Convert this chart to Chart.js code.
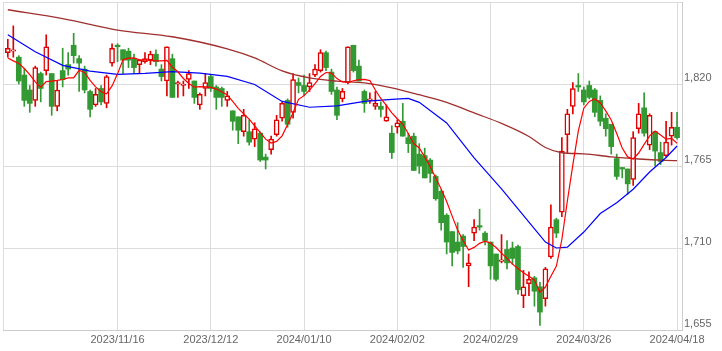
<!DOCTYPE html>
<html>
<head>
<meta charset="utf-8">
<script src="https://cdn.jsdelivr.net/npm/chart.js@4.4.1/dist/chart.umd.min.js"></script>
<style>
  html, body { margin: 0; padding: 0; background: #fff; }
  #stock-chart { display: block; }
</style>
</head>
<body>
<canvas id="stock-chart" width="722" height="351"></canvas>
<script>
// daily candles, index 0 = first visible day
const openP = [1841,1842,1838,1826,1816,1809,1827,1829,1827,1805,1829,1833,1846,1837,1830,1815,1806,1817,1807,1834,
  1846,1843,1842,1837,1833,1835,1836,1840,1830,1822,1837,1820,1819,1823,1822,1806,1817,1825,1818,1817,
  1809,1802,1798,1788,1788,1783,1787,1771,1776,1786,1797,1809,1801,1821,1819,1818,1826,1829,1841,1828,
  1816,1810,1821,1846,1832,1815,1809,1805,1805,1795,1787,1791,1795,1784,1785,1773,1772,1769,1758,1748,
  1732,1721,1714,1718,1698,1720,1725,1720,1714,1706,1701,1709,1710,1711,1678,1686,1690,1684,1676,1704,
  1729,1734,1786,1805,1819,1816,1819,1816,1809,1797,1793,1770,1764,1763,1756,1790,1804,1779,1788,1774,
  1772,1785,1791];
const highP = [1850,1859,1839,1830,1819,1832,1828,1853,1827,1822,1844,1841,1854,1839,1832,1816,1817,1819,1826,1847,
  1847,1843,1844,1840,1836,1841,1842,1843,1833,1845,1840,1822,1822,1829,1822,1814,1827,1826,1819,1818,
  1815,1802,1798,1803,1796,1794,1788,1773,1785,1799,1808,1810,1827,1824,1826,1827,1833,1843,1842,1830,
  1818,1817,1845,1846,1836,1816,1814,1815,1808,1806,1792,1796,1807,1787,1787,1780,1777,1770,1759,1749,
  1733,1721,1727,1719,1706,1729,1736,1721,1714,1706,1719,1715,1714,1712,1695,1694,1691,1687,1697,1739,
  1730,1784,1803,1821,1827,1818,1822,1817,1812,1800,1793,1773,1764,1763,1788,1807,1814,1800,1788,1781,
  1795,1801,1801];
const lowP = [1838,1838,1820,1805,1801,1805,1808,1826,1799,1802,1818,1826,1834,1815,1814,1798,1805,1806,1804,1832,
  1835,1827,1831,1827,1827,1834,1833,1832,1822,1812,1811,1811,1812,1817,1807,1803,1812,1815,1803,1805,
  1805,1789,1780,1785,1779,1778,1768,1763,1773,1785,1795,1791,1797,1814,1812,1815,1825,1828,1829,1813,
  1796,1808,1820,1828,1822,1801,1807,1803,1798,1795,1770,1787,1785,1774,1762,1760,1757,1754,1742,1722,
  1706,1698,1706,1697,1684,1715,1722,1712,1689,1688,1700,1696,1699,1679,1670,1678,1671,1658,1671,1703,
  1717,1731,1774,1800,1815,1806,1810,1798,1792,1785,1773,1756,1757,1746,1752,1787,1785,1776,1765,1766,
  1771,1779,1783];
const closeP = [1844,1843,1822,1809,1807,1831,1817,1845,1805,1816,1823,1830,1839,1834,1816,1803,1813,1808,1825,1844,
  1845,1836,1836,1831,1836,1837,1840,1835,1825,1845,1811,1821,1820,1827,1811,1813,1821,1817,1811,1811,
  1812,1795,1789,1799,1781,1790,1769,1769,1783,1796,1807,1793,1823,1819,1815,1821,1830,1841,1831,1815,
  1799,1815,1845,1829,1822,1807,1810,1807,1803,1798,1774,1794,1785,1780,1762,1765,1757,1760,1743,1727,
  1714,1707,1708,1711,1700,1724,1724,1715,1698,1689,1702,1700,1703,1682,1684,1689,1681,1667,1696,1724,
  1720,1775,1800,1817,1818,1808,1811,1801,1795,1790,1778,1758,1763,1753,1784,1800,1787,1799,1775,1768,
  1781,1791,1784];

// short moving average, one value per day
const ma5 = [1837.5,1835.5,1833.8,1830.4,1826.3,1821.4,1817.9,1821.6,1821.9,1822.4,1823.0,1824.1,1824.1,1829.2,1827.8,1822.4,1818.1,1814.8,1813.4,1818.7,
  1826.8,1836.2,1837.4,1837.5,1836.2,1836.2,1835.8,1835.5,1835.5,1835.9,1831.2,1828.2,1823.7,1820.4,1817.9,1818.3,1818.1,1817.7,1816.6,1814.8,
  1812.7,1808.3,1803.7,1800.0,1796.4,1791.9,1787.5,1783.0,1780.4,1781.5,1785.2,1792.8,1800.7,1809.7,1812.2,1815.9,1820.2,1825.1,1827.7,1827.3,
  1823.6,1821.4,1821.0,1822.2,1822.9,1823.1,1822.3,1816.0,1810.3,1805.6,1800.6,1796.7,1793.0,1786.8,1780.1,1777.1,1771.1,1764.7,1757.0,1749.6,
  1741.2,1731.4,1722.0,1715.0,1708.6,1710.4,1713.1,1714.6,1713.3,1710.3,1706.6,1703.0,1699.2,1696.3,1693.4,1691.1,1688.5,1680.4,1683.8,1691.1,
  1697.9,1715.7,1741.5,1765.7,1788.5,1803.8,1808.3,1810.0,1807.3,1802.0,1795.9,1786.8,1777.1,1771.1,1769.7,1773.7,1779.5,1785.2,1788.5,1785.8,
  1783.0,1783.5,1780.3];

// medium and long moving averages, read at a few days
const ma25Day = [0,5,10,15,20,25,30,35,40,45,50,55,60,65,70,73,75,80,85,90,95,98,100,102,105,108,111,114,117,120,122];
const ma25 = [1853.0,1841.6,1832.5,1828.6,1826.5,1827.1,1828.3,1827.3,1825.1,1819.7,1808.3,1804.4,1805.3,1808.3,1809.7,1810.3,1807.7,1793.9,1770.4,1749.6,1727.4,1714.0,1710.0,1710.6,1720.7,1733.1,1740.4,1749.4,1761.0,1770.7,1778.4];
const ma75Day = [0,10,20,30,40,45,50,55,60,65,70,75,80,85,90,95,98,101,105,110,115,120,122];
const ma75 = [1869.8,1863.9,1856.2,1851.7,1843.6,1837.5,1828.8,1824.1,1821.9,1820.8,1817.4,1812.8,1807.7,1800.6,1793.6,1784.8,1777.4,1773.9,1773.2,1771.1,1769.7,1768.8,1768.6];

const tickDay = [20, 37, 54, 71, 88, 105, 122];
const tickLabels = ['2023/11/16', '2023/12/12', '2024/01/10', '2024/02/02', '2024/02/29', '2024/03/26', '2024/04/18'];
const priceTicks = [1655, 1710, 1765, 1820, 1875];

const RED = '#e00000';
const GREEN = '#339933';
const GRID = '#dcdcdc';
const tickFont = { family: 'Liberation Sans', size: 11 };

window.onload = () => {
    const up = closeP.map((c, i) => c >= openP[i]);

    const ctx = document.getElementById('stock-chart');
    new Chart(ctx, {
        type: 'bar',
        data: {
            datasets: [
                {
                    type: 'line',
                    data: ma5.map((v, i) => ({ x: i, y: v })),
                    borderColor: '#ff0000',
                    borderWidth: 1.2,
                    pointRadius: 0,
                    order: 0
                },
                {
                    type: 'line',
                    data: ma25Day.map((d, k) => ({ x: d, y: ma25[k] })),
                    borderColor: '#0000ff',
                    borderWidth: 1.2,
                    pointRadius: 0,
                    order: 0
                },
                {
                    type: 'line',
                    data: ma75Day.map((d, k) => ({ x: d, y: ma75[k] })),
                    borderColor: '#a0302e',
                    borderWidth: 1.3,
                    pointRadius: 0,
                    cubicInterpolationMode: 'monotone',
                    order: 0
                },
                {
                    // candle bodies
                    data: openP.map((o, i) => ({ x: i, y: [o, closeP[i]] })),
                    backgroundColor: up.map(u => u ? '#ffffff' : GREEN),
                    borderColor: up.map(u => u ? RED : GREEN),
                    borderWidth: up.map(u => u ? 1.5 : 0),
                    borderSkipped: false,
                    barThickness: 5,
                    order: 1
                },
                {
                    // wicks
                    data: lowP.map((l, i) => ({ x: i, y: [l, highP[i]] })),
                    backgroundColor: up.map(u => u ? RED : GREEN),
                    barThickness: 1,
                    order: 2
                }
            ]
        },
        options: {
            responsive: false,
            animation: false,
            devicePixelRatio: 1,
            datasets: { bar: { grouped: false } },
            layout: { padding: { left: 3, top: 2, right: 0, bottom: 0 } },
            plugins: {
                legend: { display: false },
                tooltip: { enabled: false }
            },
            scales: {
                x: {
                    type: 'linear',
                    offset: false,
                    min: -0.88,
                    max: 122.9,
                    afterBuildTicks: (s) => {
                        s.ticks = [-0.88, ...tickDay, 122.9].map(v => ({ value: v }));
                    },
                    afterFit: (s) => {
                        s.height = 21;
                        s.paddingLeft = 0;
                        s.paddingRight = 0;
                    },
                    ticks: {
                        autoSkip: false,
                        maxRotation: 0,
                        padding: 3,
                        color: '#666',
                        font: tickFont,
                        callback: (v) => {
                            const k = tickDay.indexOf(v);
                            return k < 0 ? '' : tickLabels[k];
                        }
                    },
                    grid: { color: GRID, drawTicks: false, offset: false },
                    border: { color: '#cccccc' }
                },
                y: {
                    position: 'right',
                    min: 1655,
                    max: 1875,
                    afterBuildTicks: (s) => {
                        s.ticks = priceTicks.map(v => ({ value: v }));
                    },
                    afterFit: (s) => {
                        s.width = 40;
                        s.paddingTop = 0;
                        s.paddingBottom = 0;
                    },
                    ticks: {
                        padding: 2,
                        labelOffset: -6,
                        color: '#666',
                        font: tickFont,
                        callback: (v) => v === 1875 ? '' : v.toLocaleString('en-US')
                    },
                    grid: { color: GRID, drawTicks: false },
                    border: { color: '#cccccc' }
                }
            }
        }
    });
}
</script>
</body>
</html>
